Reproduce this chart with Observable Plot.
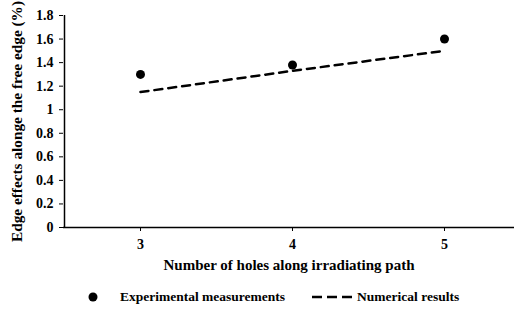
<!DOCTYPE html>
<html><head><meta charset="utf-8">
<script src="https://cdn.jsdelivr.net/npm/d3@7"></script>
<script src="https://cdn.jsdelivr.net/npm/@observablehq/plot@0.6"></script>
<style>
body{margin:0;background:#fff;font-family:"Liberation Serif","Times New Roman",serif;font-weight:bold;}
#legend{display:flex;align-items:center;height:30px;font-size:13.5px;color:#000;}
</style></head>
<body><div id="chart"></div><div id="legend"></div>
<script>
const holes = [3, 4, 5];
const experimental = [1.30, 1.38, 1.60];
const numerical = [1.15, 1.33, 1.50];
const yTicks = [0, 0.2, 0.4, 0.6, 0.8, 1, 1.2, 1.4, 1.6, 1.8];
const xTicks = [3, 4, 5];

const expData = holes.map((h, i) => ({x: h, y: experimental[i]}));
const numData = holes.map((h, i) => ({x: h, y: numerical[i]}));

const plot = Plot.plot({
  width: 514, height: 282,
  marginLeft: 63, marginTop: 15, marginBottom: 55, marginRight: 0,
  style: {fontFamily: "Liberation Serif, Times New Roman, serif", fontWeight: "bold", fontSize: "14px", color: "#000", background: "#fff"},
  x: {domain: [2.5, 5.5], range: [64, 520], ticks: xTicks, tickFormat: d3.format("d"), tickSize: 4, tickPadding: 8,
      label: "Number of holes along irradiating path", labelAnchor: "center", labelArrow: "none", labelOffset: 42},
  y: {domain: [0, 1.8], ticks: yTicks, tickFormat: d3.format("~g"), tickSize: 4, tickPadding: 6,
      label: "Edge effects alonge the free edge (%)", labelAnchor: "center", labelArrow: "none", labelOffset: 52},
  marks: [
    Plot.ruleY([0], {stroke: "#000", strokeWidth: 1.5}),
    Plot.ruleX([2.5], {y1: 0, y2: 1.8, stroke: "#000", strokeWidth: 1.5}),
    Plot.line(numData, {x: "x", y: "y", stroke: "#000", strokeWidth: 2.5, strokeDasharray: "8,6"}),
    Plot.dot(expData, {x: "x", y: "y", r: 4.5, fill: "#000", stroke: "none"})
  ]
});
plot.querySelectorAll('[aria-label="x-axis label"] text').forEach(t => t.style.fontSize = "15px");
plot.querySelectorAll('[aria-label="y-axis label"] text').forEach(t => t.style.fontSize = "15.3px");
document.getElementById("chart").append(plot);

const legend = document.getElementById("legend");
legend.innerHTML = `
<svg width="120" height="20"><circle cx="93" cy="10" r="4.5" fill="#000"/></svg>
<span style="margin-right:27px">Experimental measurements</span>
<svg width="45" height="20"><line x1="0" x2="40" y1="10" y2="10" stroke="#000" stroke-width="2.5" stroke-dasharray="10,5"/></svg>
<span>Numerical results</span>`;
</script>
</body></html>
